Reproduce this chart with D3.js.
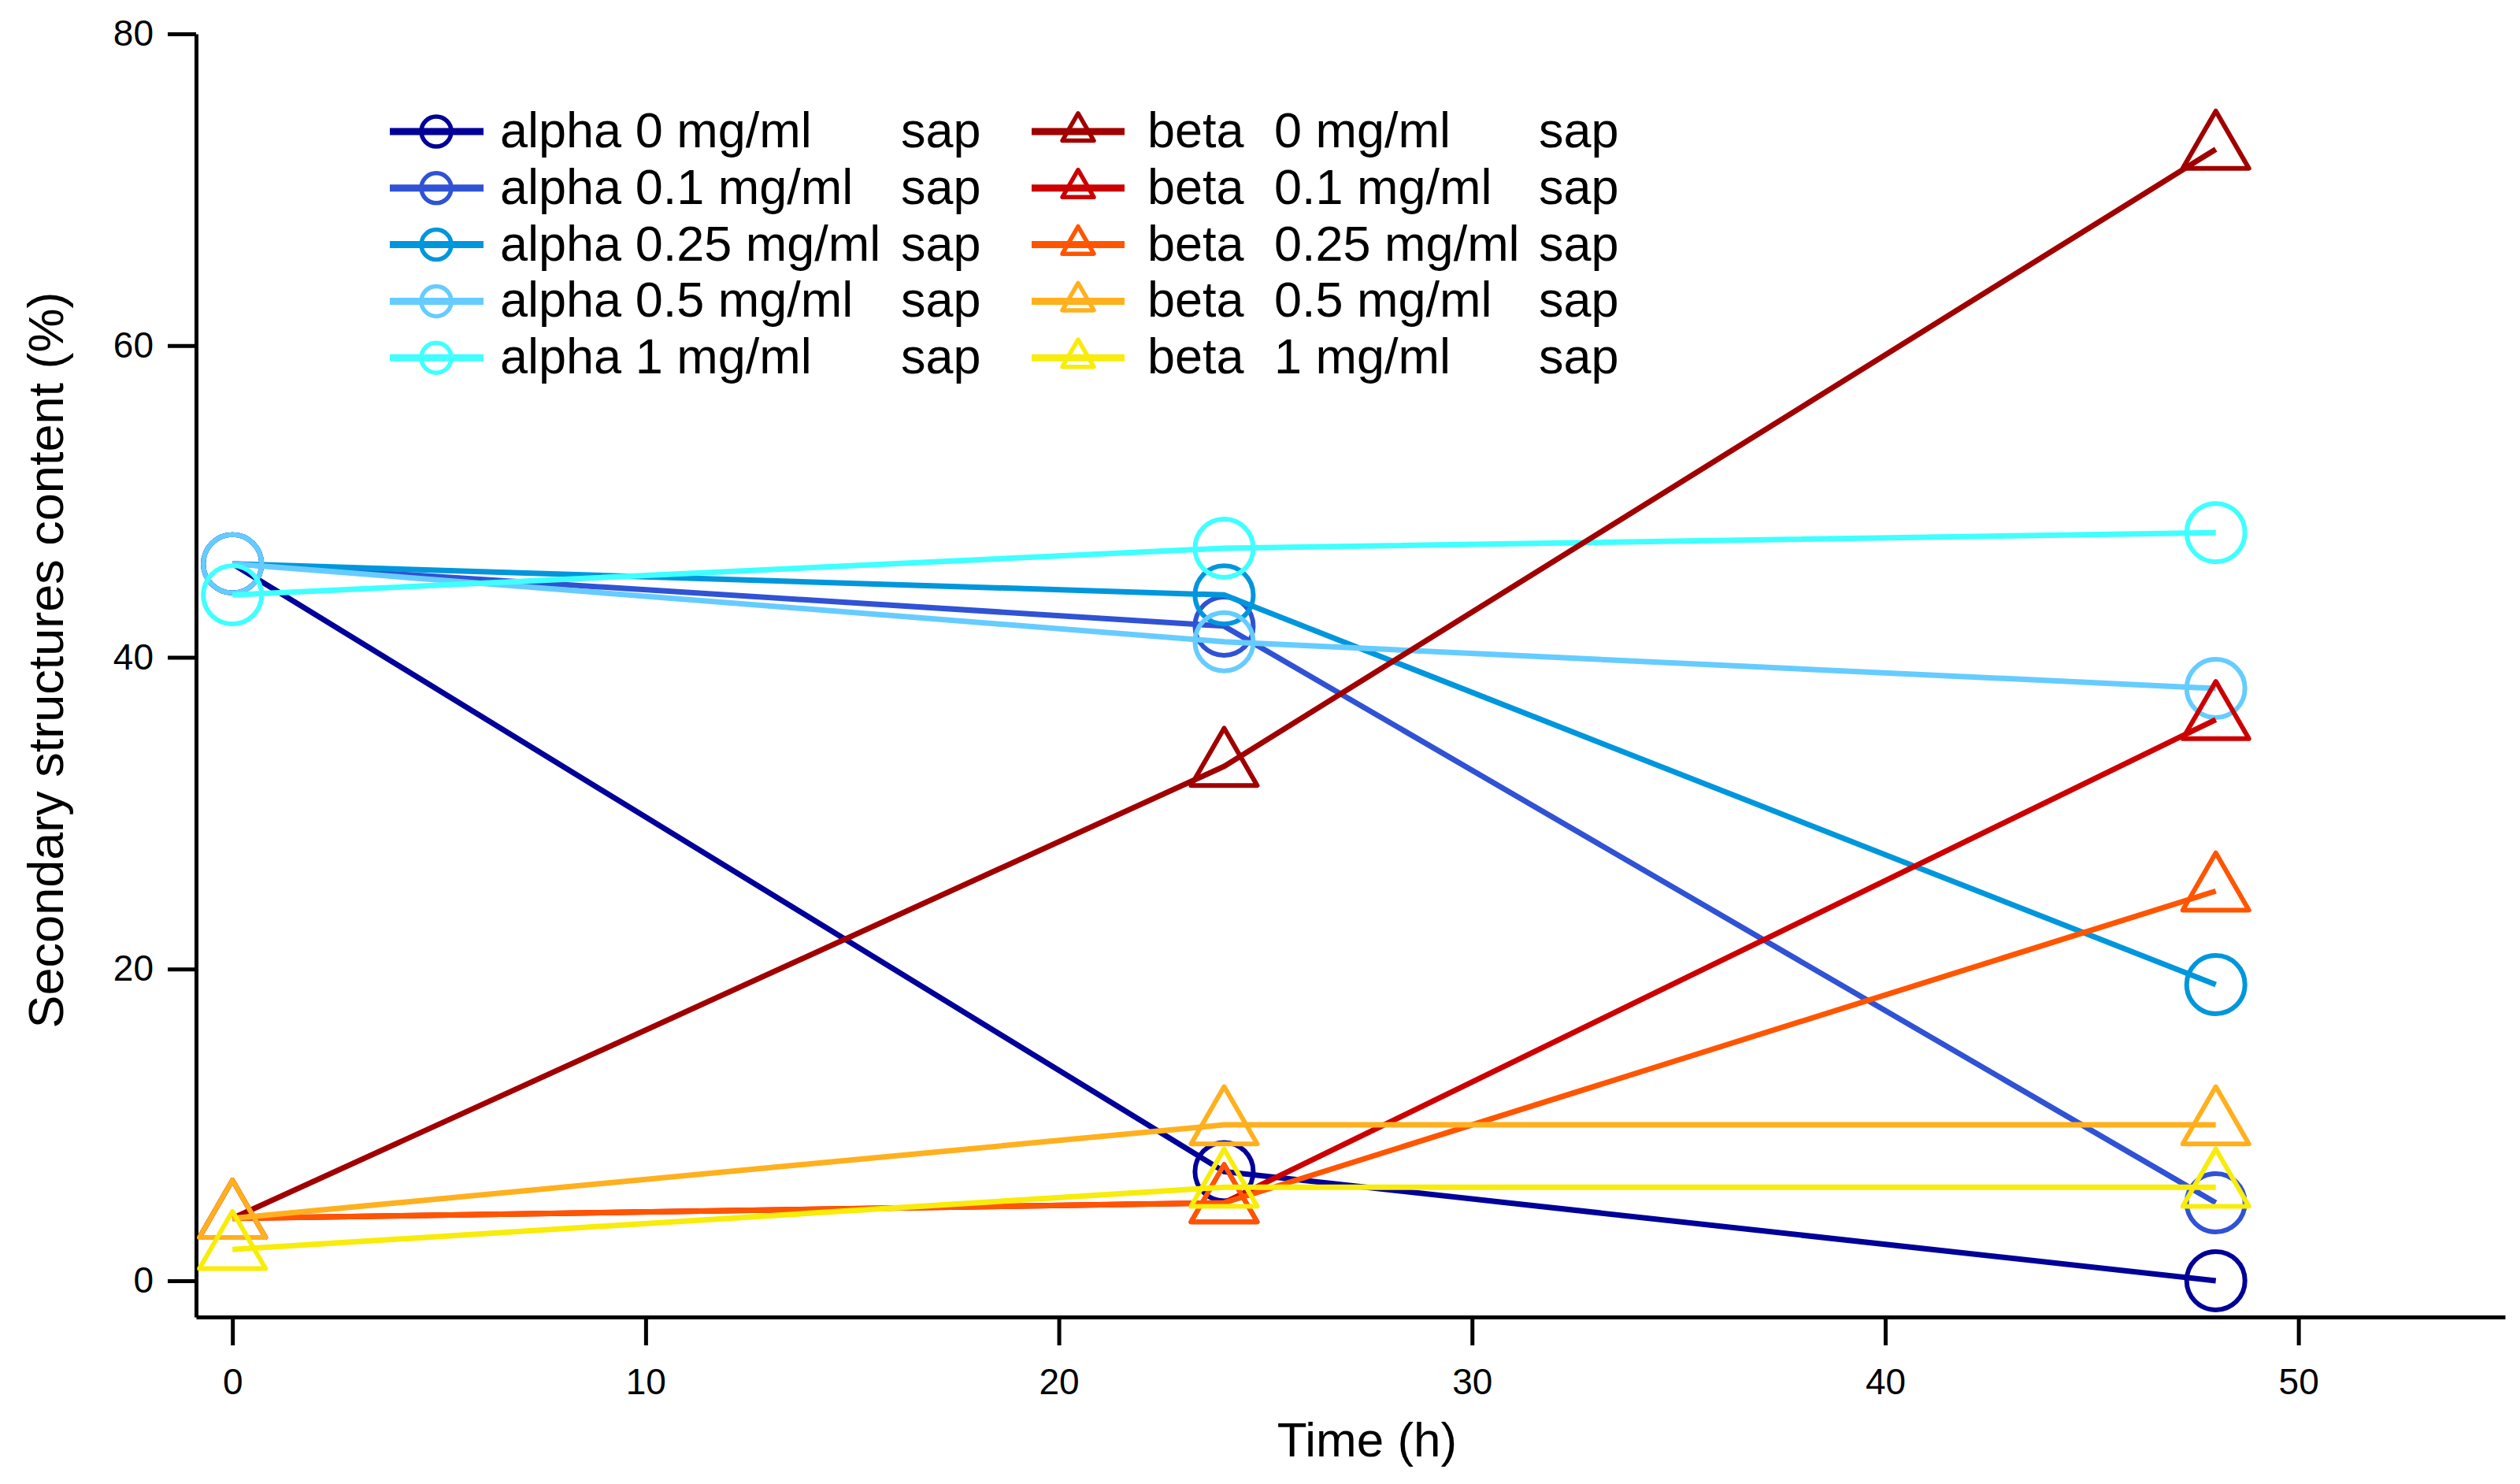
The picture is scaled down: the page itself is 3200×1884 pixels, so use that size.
<!DOCTYPE html>
<html>
<head>
<meta charset="utf-8">
<script src="https://cdn.jsdelivr.net/npm/d3@7"></script>
<style>
	body { margin: 0; background: #ffffff; }
	svg { display: block; }
	text { font-family: "Liberation Sans", Arial, Helvetica, sans-serif; fill: #000; }
</style>
</head>
<body>
<div id="chart"></div>
<script>

// time points (h)
const times = [0, 24, 48];

// alpha helix content (%) per saponin concentration
const alpha0 = [46, 7, 0];
const alpha01 = [46, 42, 5];
const alpha025 = [46, 44, 19];
const alpha05 = [46, 41, 38];
const alpha1 = [44, 47, 48];

// beta sheet content (%) per saponin concentration
const beta0 = [4, 33, 72.6];
const beta01 = [4, 5, 36];
const beta025 = [4, 5, 25];
const beta05 = [4, 10, 10];
const beta1 = [2, 6, 6];

const concLabels = ["0 mg/ml", "0.1 mg/ml", "0.25 mg/ml", "0.5 mg/ml", "1 mg/ml"];
const alphaColors = ["#000099", "#3052d4", "#0096dc", "#66ccff", "#40ffff"];
const betaColors = ["#a00000", "#cc0000", "#ff5500", "#ffb01e", "#f8ec0a"];

const xTicks = [0, 10, 20, 30, 40, 50];
const yTicks = [0, 20, 40, 60, 80];

const alphaSeries = [alpha0, alpha01, alpha025, alpha05, alpha1];
const betaSeries = [beta0, beta01, beta025, beta05, beta1];

const W = 3200, H = 1884;

let svg = d3.select("#chart").append("svg")
	.attr("width", W)
	.attr("height", H);

svg.append("rect").attr("width", W).attr("height", H).attr("fill", "#fff");

// scales
let x = d3.scaleLinear().domain([-0.88, 55]).range([249, 3181]);
let y = d3.scaleLinear().domain([-2.33, 80]).range([1672, 43]);

// axes
let yAxis = d3.axisLeft(y).tickValues(yTicks).tickSize(36).tickSizeOuter(0).tickPadding(18);
let xAxis = d3.axisBottom(x).tickValues(xTicks).tickSize(36).tickSizeOuter(0).tickPadding(29);

let gy = svg.append("g")
	.attr("transform", "translate(249,0)")
	.call(yAxis);
let gx = svg.append("g")
	.attr("transform", "translate(0,1672)")
	.call(xAxis);

[gx, gy].forEach(g => {
	g.select(".domain").attr("stroke", "#000").attr("stroke-width", 5);
	g.selectAll(".tick line").attr("stroke", "#000").attr("stroke-width", 5);
	g.selectAll(".tick text")
		.style("font-family", "'Liberation Sans', Arial, sans-serif")
		.style("font-size", "46px")
		.attr("fill", "#000");
});

// axis titles
svg.append("text")
	.attr("x", 1736)
	.attr("y", 1849)
	.attr("text-anchor", "middle")
	.style("font-size", "62px")
	.text("Time (h)");

svg.append("text")
	.attr("transform", "translate(80,838) rotate(-90)")
	.attr("text-anchor", "middle")
	.style("font-size", "63px")
	.text("Secondary structures content (%)");

// triangle centred on its centroid
function triPath(side) {
	let h = side * Math.sqrt(3) / 2;
	return `M0,${-2 * h / 3}L${side / 2},${h / 3}L${-side / 2},${h / 3}Z`;
}

let line = d3.line()
	.x((d, i) => x(times[i]))
	.y(d => y(d));

function drawSeries(values, color, shape) {
	let g = svg.append("g");
	g.append("path")
		.datum(values)
		.attr("d", line)
		.attr("fill", "none")
		.attr("stroke", color)
		.attr("stroke-width", 7);

	if (shape === "circle") {
		g.selectAll("circle")
			.data(values)
			.enter().append("circle")
			.attr("cx", (d, i) => x(times[i]))
			.attr("cy", d => y(d))
			.attr("r", 37)
			.attr("fill", "none")
			.attr("stroke", color)
			.attr("stroke-width", 6);
	} else {
		g.selectAll("path.tri")
			.data(values)
			.enter().append("path")
			.attr("class", "tri")
			.attr("d", triPath(84))
			.attr("transform", (d, i) => `translate(${x(times[i])},${y(d)})`)
			.attr("fill", "none")
			.attr("stroke", color)
			.attr("stroke-width", 6)
			.attr("stroke-linejoin", "round");
	}
}

alphaSeries.forEach((s, i) => drawSeries(s, alphaColors[i], "circle"));
betaSeries.forEach((s, i) => drawSeries(s, betaColors[i], "triangle"));

// legend
let legend = svg.append("g");
const rowY = i => 167 + i * 71.8;

concLabels.forEach((c, i) => {
	let cy = rowY(i);

	// alpha column
	legend.append("line")
		.attr("x1", 495).attr("x2", 614)
		.attr("y1", cy).attr("y2", cy)
		.attr("stroke", alphaColors[i])
		.attr("stroke-width", 9);
	legend.append("circle")
		.attr("cx", 554).attr("cy", cy)
		.attr("r", 19)
		.attr("fill", "none")
		.attr("stroke", alphaColors[i])
		.attr("stroke-width", 5.5);
	legend.append("text")
		.attr("x", 635).attr("y", cy + 20)
		.style("font-size", "63px")
		.text("alpha " + c);
	legend.append("text")
		.attr("x", 1144).attr("y", cy + 20)
		.style("font-size", "63px")
		.text("sap");

	// beta column
	legend.append("line")
		.attr("x1", 1310).attr("x2", 1428)
		.attr("y1", cy).attr("y2", cy)
		.attr("stroke", betaColors[i])
		.attr("stroke-width", 9);
	legend.append("path")
		.attr("d", triPath(40))
		.attr("transform", `translate(1369,${cy})`)
		.attr("fill", "none")
		.attr("stroke", betaColors[i])
		.attr("stroke-width", 5.5)
		.attr("stroke-linejoin", "round");
	legend.append("text")
		.attr("x", 1457).attr("y", cy + 20)
		.style("font-size", "63px")
		.text("beta");
	legend.append("text")
		.attr("x", 1618).attr("y", cy + 20)
		.style("font-size", "63px")
		.text(c);
	legend.append("text")
		.attr("x", 1954).attr("y", cy + 20)
		.style("font-size", "63px")
		.text("sap");
});

</script>
</body>
</html>
